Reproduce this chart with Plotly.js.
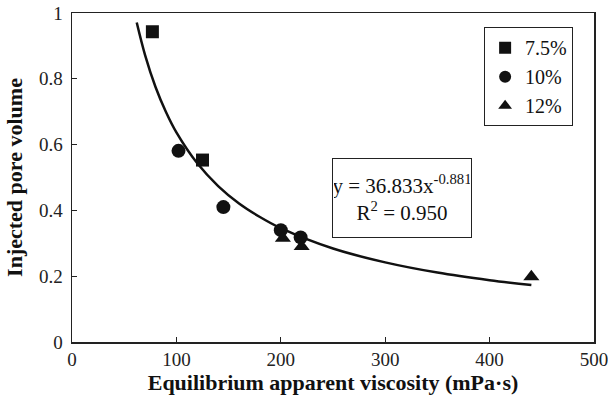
<!DOCTYPE html>
<html>
<head>
<meta charset="utf-8">
<script src="https://cdn.plot.ly/plotly-3.0.1.min.js"></script>
<style>html,body{margin:0;padding:0;background:#fff;}#chart{width:608px;height:401px;}</style>
</head>
<body>
<div id="chart"></div>
<script>
// Data
const sqX = [77, 125];
const sqY = [0.943, 0.553];
const ciX = [102, 145, 200, 219];
const ciY = [0.581, 0.410, 0.340, 0.318];
const trX = [202, 220, 440];
const trY = [0.315, 0.290, 0.198];
// Power-law trend line
const fitX = [62, 70, 80, 90, 100, 120, 140, 160, 180, 200, 250, 300, 350, 400, 440];
const fitY = [0.971, 0.872, 0.775, 0.699, 0.637, 0.543, 0.474, 0.421, 0.380, 0.346, 0.284, 0.242, 0.211, 0.188, 0.173];
const seriesNames = ['7.5%', '10%', '12%'];
const xTicks = [0, 100, 200, 300, 400, 500];
const yTicks = [0, 0.2, 0.4, 0.6, 0.8, 1];

const ink = '#111111';
const font = 'Liberation Serif';

const traces = [
  {x: fitX, y: fitY, mode: 'lines', line: {color: ink, width: 2.5, shape: 'spline'}, showlegend: false, hoverinfo: 'skip'},
  {x: sqX, y: sqY, mode: 'markers', name: seriesNames[0], marker: {symbol: 'square', size: 13, color: ink}},
  {x: ciX, y: ciY, mode: 'markers', name: seriesNames[1], marker: {symbol: 'circle', size: 14, color: ink}},
  {x: trX, y: trY, mode: 'markers', name: seriesNames[2], marker: {symbol: 'triangle-up', size: 14, color: ink}}
];

const axisCommon = {
  showgrid: false, zeroline: false, showline: true, linecolor: '#222', linewidth: 1.5,
  mirror: true, ticks: 'inside', ticklen: 5, tickwidth: 1, tickcolor: '#222',
  tickfont: {family: font, size: 19, color: '#222'}
};

const layout = {
  width: 608, height: 401,
  margin: {l: 72, r: 14, t: 13, b: 59},
  paper_bgcolor: '#fff', plot_bgcolor: '#fff',
  font: {family: font, color: '#111'},
  xaxis: Object.assign({}, axisCommon, {
    range: [0, 500], tickvals: xTicks, ticktext: xTicks.map(String),
    ticklabelstandoff: 0, ticklabeloverflow: 'allow',
    title: {text: '<b>Equilibrium apparent viscosity (mPa·s)</b>', font: {family: font, size: 22, color: '#111'}, standoff: 4}
  }),
  yaxis: Object.assign({}, axisCommon, {
    range: [0, 1], tickvals: yTicks, ticktext: yTicks.map(String),
    ticklabelstandoff: 4,
    title: {text: '<b>Injected pore volume</b>', font: {family: font, size: 22, color: '#111'}, standoff: 10}
  }),
  legend: {
    x: 0.96, y: 0.957, xanchor: 'right', yanchor: 'top',
    bordercolor: '#222', borderwidth: 1, bgcolor: '#fff',
    font: {family: font, size: 20, color: '#111'},
    itemwidth: 30, tracegroupgap: 0, itemsizing: 'constant'
  },
  annotations: [{
    x: 316, y: 0.438, xref: 'x', yref: 'y', showarrow: false,
    text: 'y = 36.833x<sup>-0.881</sup><br>R<sup>2</sup> = 0.950',
    font: {family: font, size: 21, color: '#111'},
    bordercolor: '#222', borderwidth: 1, bgcolor: '#fff',
    width: 136, height: 76, borderpad: 1, align: 'center'
  }]
};

Plotly.newPlot('chart', traces, layout, {displayModeBar: false, staticPlot: true});
</script>
</body>
</html>
